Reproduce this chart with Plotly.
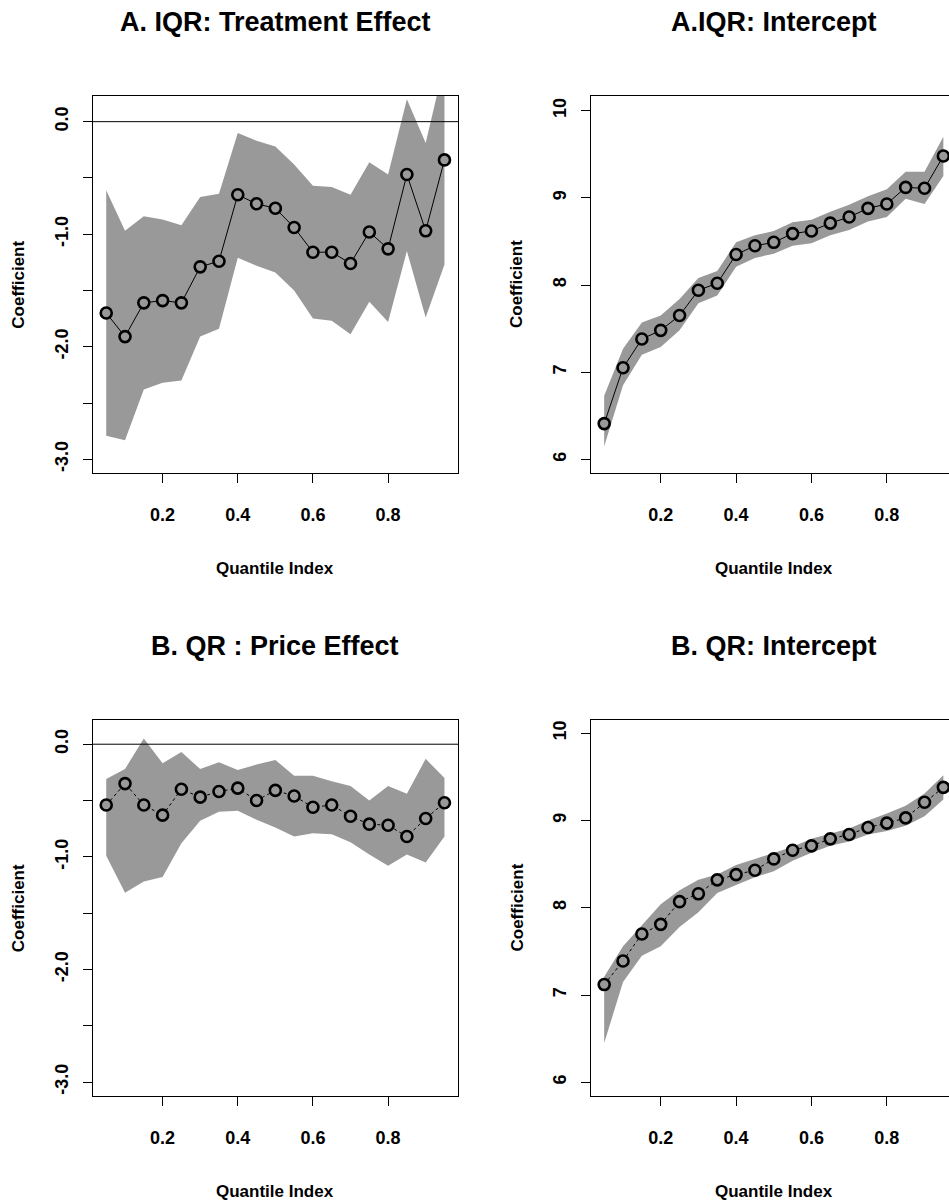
import plotly.graph_objects as go

# ---------------- data ----------------
tau = [0.05, 0.10, 0.15, 0.20, 0.25, 0.30, 0.35, 0.40, 0.45, 0.50,
       0.55, 0.60, 0.65, 0.70, 0.75, 0.80, 0.85, 0.90, 0.95]

iqr_te = [-1.70, -1.91, -1.61, -1.59, -1.61, -1.29, -1.24, -0.65, -0.73, -0.77,
          -0.94, -1.16, -1.16, -1.26, -0.98, -1.13, -0.47, -0.97, -0.34]
iqr_te_hi = [-0.61, -0.97, -0.84, -0.87, -0.92, -0.67, -0.64, -0.10, -0.17, -0.22,
             -0.38, -0.57, -0.58, -0.65, -0.36, -0.47, 0.20, -0.19, 0.52]
iqr_te_lo = [-2.79, -2.83, -2.38, -2.32, -2.30, -1.91, -1.84, -1.21, -1.28, -1.34,
             -1.50, -1.75, -1.77, -1.89, -1.60, -1.78, -1.15, -1.74, -1.27]

iqr_int = [6.41, 7.05, 7.38, 7.48, 7.65, 7.94, 8.02, 8.35, 8.45, 8.49,
           8.59, 8.62, 8.71, 8.78, 8.88, 8.93, 9.12, 9.11, 9.48]
iqr_int_hi = [6.73, 7.27, 7.57, 7.65, 7.84, 8.08, 8.16, 8.49, 8.57, 8.62,
              8.72, 8.75, 8.84, 8.92, 9.02, 9.10, 9.30, 9.30, 9.70]
iqr_int_lo = [6.15, 6.85, 7.20, 7.29, 7.48, 7.79, 7.88, 8.21, 8.31, 8.36,
              8.45, 8.48, 8.57, 8.63, 8.73, 8.78, 8.99, 8.93, 9.25]

qr_pe = [-0.54, -0.35, -0.54, -0.63, -0.40, -0.47, -0.42, -0.39, -0.50, -0.41,
         -0.46, -0.56, -0.54, -0.64, -0.71, -0.72, -0.82, -0.66, -0.52]
qr_pe_hi = [-0.31, -0.22, 0.05, -0.17, -0.07, -0.22, -0.16, -0.23, -0.18, -0.14,
            -0.28, -0.28, -0.33, -0.37, -0.50, -0.37, -0.44, -0.13, -0.30]
qr_pe_lo = [-0.99, -1.32, -1.22, -1.18, -0.88, -0.68, -0.60, -0.59, -0.67, -0.74,
            -0.82, -0.79, -0.80, -0.87, -0.98, -1.08, -0.98, -1.05, -0.82]

qr_int = [7.12, 7.39, 7.70, 7.81, 8.07, 8.16, 8.32, 8.38, 8.43, 8.56,
          8.66, 8.71, 8.79, 8.84, 8.92, 8.97, 9.03, 9.21, 9.38]
qr_int_hi = [7.21, 7.56, 7.80, 8.04, 8.20, 8.32, 8.38, 8.49, 8.56, 8.63,
             8.70, 8.79, 8.85, 8.91, 9.00, 9.08, 9.17, 9.31, 9.52]
qr_int_lo = [6.45, 7.15, 7.45, 7.56, 7.78, 7.95, 8.17, 8.26, 8.35, 8.42,
             8.54, 8.63, 8.71, 8.76, 8.84, 8.88, 8.94, 9.05, 9.24]

titles = ["A. IQR: Treatment Effect", "A.IQR: Intercept",
          "B. QR : Price Effect", "B. QR: Intercept"]
x_ticks = [0.2, 0.4, 0.6, 0.8]
x_ticklabels = ["0.2", "0.4", "0.6", "0.8"]
coef_ticks = [-3.0, -2.5, -2.0, -1.5, -1.0, -0.5, 0.0]
coef_ticklabels = ["-3.0", "", "-2.0", "", "-1.0", "", "0.0"]
int_ticks = [6, 7, 8, 9, 10]
int_ticklabels = ["6", "7", "8", "9", "10"]

# ---------------- layout geometry (pixels) ----------------
W, H = 949, 1204
FONT = "Liberation Sans, Arial, Helvetica, sans-serif"
BAND = "#999999"


def xd(px):
    return px / W


def yd(py):
    return 1 - py / H


panels = [
    dict(est=iqr_te, lo=iqr_te_lo, hi=iqr_te_hi, box=(92.7, 458, 96, 473),
         xr=[0.014, 0.986], yr=[-3.122, 0.228], dash="solid", hline=True,
         yt=coef_ticks, ytl=coef_ticklabels, mirror_y=True),
    dict(est=iqr_int, lo=iqr_int_lo, hi=iqr_int_hi, box=(591, 949, 96, 473),
         xr=[0.015, 0.965], yr=[5.843, 10.169], dash="solid", hline=False,
         yt=int_ticks, ytl=int_ticklabels, mirror_y=False),
    dict(est=qr_pe, lo=qr_pe_lo, hi=qr_pe_hi, box=(92.7, 458, 720, 1096),
         xr=[0.014, 0.986], yr=[-3.124, 0.215], dash="dot", hline=True,
         yt=coef_ticks, ytl=coef_ticklabels, mirror_y=True),
    dict(est=qr_int, lo=qr_int_lo, hi=qr_int_hi, box=(591, 949, 720, 1096),
         xr=[0.015, 0.965], yr=[5.843, 10.152], dash="dot", hline=False,
         yt=int_ticks, ytl=int_ticklabels, mirror_y=False),
]

fig = go.Figure()
annotations = []
shapes = []

for i, p in enumerate(panels):
    n = i + 1
    xa = "x" if n == 1 else f"x{n}"
    ya = "y" if n == 1 else f"y{n}"
    x0, x1, y0, y1 = p["box"]

    # confidence band
    fig.add_trace(go.Scatter(
        x=tau + tau[::-1], y=p["hi"] + p["lo"][::-1],
        fill="toself", fillcolor=BAND, line=dict(width=0, color=BAND),
        mode="lines", xaxis=xa, yaxis=ya, showlegend=False, hoverinfo="skip"))
    # estimate line
    fig.add_trace(go.Scatter(
        x=tau, y=p["est"], mode="lines+markers",
        line=dict(color="black", width=1, dash=p["dash"]),
        marker=dict(symbol="circle", size=11, color=BAND,
                    line=dict(color="black", width=2.6)),
        xaxis=xa, yaxis=ya, showlegend=False, cliponaxis=True))

    axis_common = dict(showgrid=False, zeroline=False, showline=True,
                       linecolor="black", linewidth=1, ticks="outside",
                       ticklen=9, tickwidth=1, tickcolor="black",
                       tickfont=dict(family=FONT, size=18, color="black", weight="bold"))
    fig.update_layout(**{
        ("xaxis" if n == 1 else f"xaxis{n}"): dict(
            domain=[xd(x0), xd(x1)], range=p["xr"], anchor=ya,
            tickmode="array", tickvals=x_ticks, ticktext=x_ticklabels,
            mirror=True, ticklabelstandoff=16, **axis_common),
        ("yaxis" if n == 1 else f"yaxis{n}"): dict(
            domain=[yd(y1), yd(y0)], range=p["yr"], anchor=xa,
            tickmode="array", tickvals=p["yt"], ticktext=p["ytl"],
            tickangle=-90, mirror=p["mirror_y"], ticklabelstandoff=8,
            **axis_common),
    })

    if p["hline"]:
        shapes.append(dict(type="line", xref=f"{xa} domain", yref=ya,
                           x0=0, x1=1, y0=0, y1=0,
                           line=dict(color="black", width=1)))

    cx = (x0 + (956 if x1 >= 949 else x1)) / 2
    # panel title
    annotations.append(dict(
        text=titles[i], x=xd(cx), y=yd(y0 - 74), xref="paper", yref="paper",
        showarrow=False, xanchor="center", yanchor="middle",
        font=dict(family=FONT, size=27, color="black", weight="bold")))
    # x axis title
    annotations.append(dict(
        text="Quantile Index", x=xd(cx), y=yd(y1 + 95), xref="paper", yref="paper",
        showarrow=False, xanchor="center", yanchor="middle",
        font=dict(family=FONT, size=17, color="black", weight="bold")))
    # y axis title
    annotations.append(dict(
        text="Coefficient", x=xd(x0 - 74.5), y=yd((y0 + y1) / 2),
        xref="paper", yref="paper", textangle=-90,
        showarrow=False, xanchor="center", yanchor="middle",
        font=dict(family=FONT, size=17, color="black", weight="bold")))

fig.update_layout(
    width=W, height=H,
    margin=dict(l=0, r=0, t=0, b=0),
    paper_bgcolor="white", plot_bgcolor="white",
    annotations=annotations, shapes=shapes,
    showlegend=False,
)

fig.write_html("out.html")
